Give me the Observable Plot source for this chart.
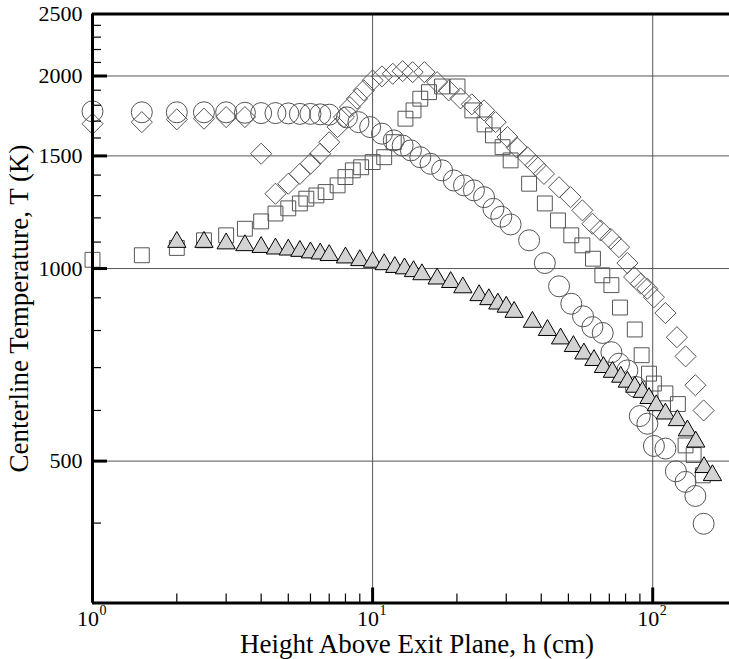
<!DOCTYPE html>
<html>
<head>
<meta charset="utf-8">
<script src="https://cdn.jsdelivr.net/npm/d3@7"></script>
<script src="https://cdn.jsdelivr.net/npm/@observablehq/plot@0.6"></script>
<style>
  html, body { margin: 0; padding: 0; background: #fff; }
  #chart { width: 729px; height: 659px; }
</style>
</head>
<body>
<div id="chart"></div>
<script>
// ---- Data ----
const circleH = [1, 1.5, 2, 2.5, 3, 3.5, 4, 4.5, 5, 5.5, 6, 6.5, 7, 8.1, 8.9, 9.8, 10.8, 11.9, 12.8, 13.7, 14.8, 16.1, 17.7, 19.5, 21.2, 23, 25, 27, 28.8, 31.1, 36.2, 41.2, 46.3, 51.2, 56.4, 60.9, 66.3, 71.2, 75.8, 81.2, 87, 89.9, 95.7, 101, 111, 121, 131, 142, 152];
const circleT = [1761, 1755, 1755, 1755, 1755, 1752, 1750, 1750, 1748, 1745, 1745, 1742, 1740, 1723, 1694, 1664, 1625, 1586, 1557, 1530, 1493, 1458, 1424, 1373, 1349, 1325, 1293, 1240, 1205, 1172, 1107, 1020, 938, 881, 842, 810, 793, 740, 710, 693, 653, 588, 572, 528, 523, 482, 464, 441, 399];

const diamondH = [1, 1.5, 2, 2.5, 3, 3.5, 4, 4.5, 5, 5.5, 6, 6.5, 7, 7.5, 7.9, 8.3, 8.8, 9.3, 10, 10.8, 11.8, 12.8, 13.9, 15.3, 17, 18.7, 20.6, 22.6, 25, 27.5, 30.3, 32.7, 35.7, 38.2, 40.9, 46.3, 50.9, 56.1, 60.9, 65.2, 70.8, 75.8, 81.2, 85.8, 90.6, 95.7, 101, 111, 122, 131, 142, 152];
const diamondT = [1684, 1694, 1711, 1715, 1725, 1725, 1512, 1309, 1357, 1406, 1458, 1512, 1576, 1664, 1725, 1788, 1843, 1899, 1968, 1997, 2016, 2035, 2028, 2028, 1956, 1899, 1845, 1806, 1767, 1694, 1605, 1546, 1493, 1450, 1406, 1340, 1293, 1233, 1175, 1147, 1113, 1080, 1020, 970, 947, 930, 902, 852, 781, 729, 657, 600];

const squareH = [1, 1.5, 2, 2.5, 3, 3.5, 4, 4.5, 5, 5.5, 5.8, 6.3, 6.8, 7.5, 8, 8.5, 9.1, 10, 11, 11.9, 13.1, 14, 14.8, 15.9, 17.7, 20.1, 22.7, 25.1, 26.9, 29.1, 31.1, 36.2, 41.2, 45.9, 51.2, 56.1, 61.2, 66.1, 71.2, 76.4, 86.3, 91.3, 97, 101, 111, 123, 131, 140, 151];
const squareT = [1032, 1049, 1077, 1107, 1127, 1154, 1185, 1219, 1242, 1264, 1286, 1301, 1317, 1349, 1390, 1424, 1440, 1467, 1493, 1576, 1715, 1767, 1843, 1887, 1926, 1926, 1767, 1680, 1615, 1548, 1476, 1357, 1264, 1189, 1127, 1087, 1036, 976, 942, 869, 803, 732, 685, 661, 638, 614, 529, 511, 475];

const triangleH = [2, 2.5, 3, 3.5, 4, 4.5, 5, 5.5, 6, 6.5, 7, 8, 9, 10, 11, 12, 13, 14, 15, 17, 19, 21, 24, 26, 28, 30, 32, 37.2, 42.1, 46.9, 52.1, 56.8, 61.7, 66.7, 71.8, 76.9, 81.2, 86.3, 91.9, 97, 103, 111, 122.5, 133, 142.4, 152.5, 163.4];
const triangleT = [1100, 1100, 1094, 1087, 1080, 1074, 1070, 1065, 1059, 1055, 1049, 1040, 1030, 1024, 1015, 1005, 1000, 990, 979, 964, 952, 934, 908, 895, 881, 871, 855, 825, 801, 777, 756, 736, 719, 701, 689, 677, 665, 653, 641, 627, 611, 593, 579, 558, 536, 489, 475];

// axes
const xDomain = [1, 188];
const yDomain = [300, 2500];
const xMajorTicks = [1, 10, 100];
const xTickBase = ["10", "10", "10"];
const xTickExponents = ["0", "1", "2"];
const xMinorTicks = [2, 3, 4, 5, 6, 7, 8, 9, 20, 30, 40, 50, 60, 70, 80, 90];
const yLabelTicks = [500, 1000, 1500, 2000, 2500];
const yMajorTicks = [500, 1000, 1500, 2000];
const yMinorTicks = [400, 600, 700, 800, 900, 1100, 1200, 1300, 1400, 1600, 1700, 1800, 1900, 2100, 2200, 2300, 2400];
const xGrid = [10, 100];
const yGrid = [500, 1000, 1500, 2000];
const xTitle = "Height Above Exit Plane, h (cm)";
const yTitle = "Centerline Temperature, T (K)";

const zip = (hs, ts) => hs.map((h, i) => ({h, T: ts[i]}));
const circles = zip(circleH, circleT);
const diamonds = zip(diamondH, diamondT);
const squares = zip(squareH, squareT);
const triangles = zip(triangleH, triangleT);

const W = 729, H = 659, ML = 92, MR = 0, MT = 13.5, MB = 56.5;
const frameW = W - ML - MR, frameH = H - MT - MB;
const open = {stroke: "#555", fill: "none", strokeWidth: 1};

const chart = Plot.plot({
  width: W, height: H,
  marginLeft: ML, marginRight: MR, marginTop: MT, marginBottom: MB,
  style: {fontFamily: "'Liberation Serif', 'Times New Roman', serif", background: "#fff", color: "#000", overflow: "visible"},
  x: {type: "log", domain: xDomain, axis: null},
  y: {type: "log", domain: yDomain, axis: null},
  marks: [
    Plot.ruleY(yGrid, {stroke: "#555", strokeWidth: 1}),
    Plot.ruleX(xGrid, {stroke: "#555", strokeWidth: 1}),
    Plot.dot(circles, {x: "h", y: "T", symbol: "circle", r: 10.5, ...open}),
    Plot.dot(diamonds, {x: "h", y: "T", symbol: "diamond2", r: 9.5, ...open}),
    Plot.dot(squares, {x: "h", y: "T", symbol: "square", r: 8.4, ...open}),
    Plot.dot(triangles, {x: "h", y: "T", symbol: "triangle", r: 6.8, fill: "#d3d3d3", stroke: "#000", strokeWidth: 1}),
    // inward ticks
    Plot.tickY(yMinorTicks, {y: d => d, insetRight: frameW - 9, stroke: "#000", strokeWidth: 1.2}),
    Plot.tickY(yMajorTicks, {y: d => d, insetRight: frameW - 15, stroke: "#000", strokeWidth: 3}),
    Plot.tickX(xMinorTicks, {x: d => d, insetTop: frameH - 9, stroke: "#000", strokeWidth: 1.2}),
    Plot.tickX(xMajorTicks, {x: d => d, insetTop: frameH - 15, stroke: "#000", strokeWidth: 3}),
    // frame lines
    Plot.ruleX([xDomain[0]], {stroke: "#000", strokeWidth: 3}),
    Plot.ruleY([yDomain[0]], {stroke: "#000", strokeWidth: 3}),
    Plot.ruleY([yDomain[1]], {stroke: "#000", strokeWidth: 3}),
    // tick labels
    Plot.axisY({ticks: yLabelTicks, tickSize: 0, tickPadding: 10, fontSize: 22, tickFormat: d3.format("d"), label: null}),
    Plot.text(xMajorTicks, {x: d => d, text: (d, i) => xTickBase[i], frameAnchor: "bottom", textAnchor: "end", lineAnchor: "middle", dx: 6.5, dy: 16, fontSize: 22}),
    Plot.text(xMajorTicks, {x: d => d, text: (d, i) => xTickExponents[i], frameAnchor: "bottom", textAnchor: "start", lineAnchor: "middle", dx: 7, dy: 8, fontSize: 14}),
    // axis titles
    Plot.text([xTitle], {text: d => d, frameAnchor: "bottom", textAnchor: "middle", lineAnchor: "middle", dx: 6, dy: 41, fontSize: 27, fill: "#000"}),
    Plot.text([yTitle], {text: d => d, frameAnchor: "left", textAnchor: "middle", lineAnchor: "middle", rotate: -90, dx: -73.5, fontSize: 27, fill: "#000"})
  ]
});
document.getElementById("chart").appendChild(chart);
</script>
</body>
</html>
